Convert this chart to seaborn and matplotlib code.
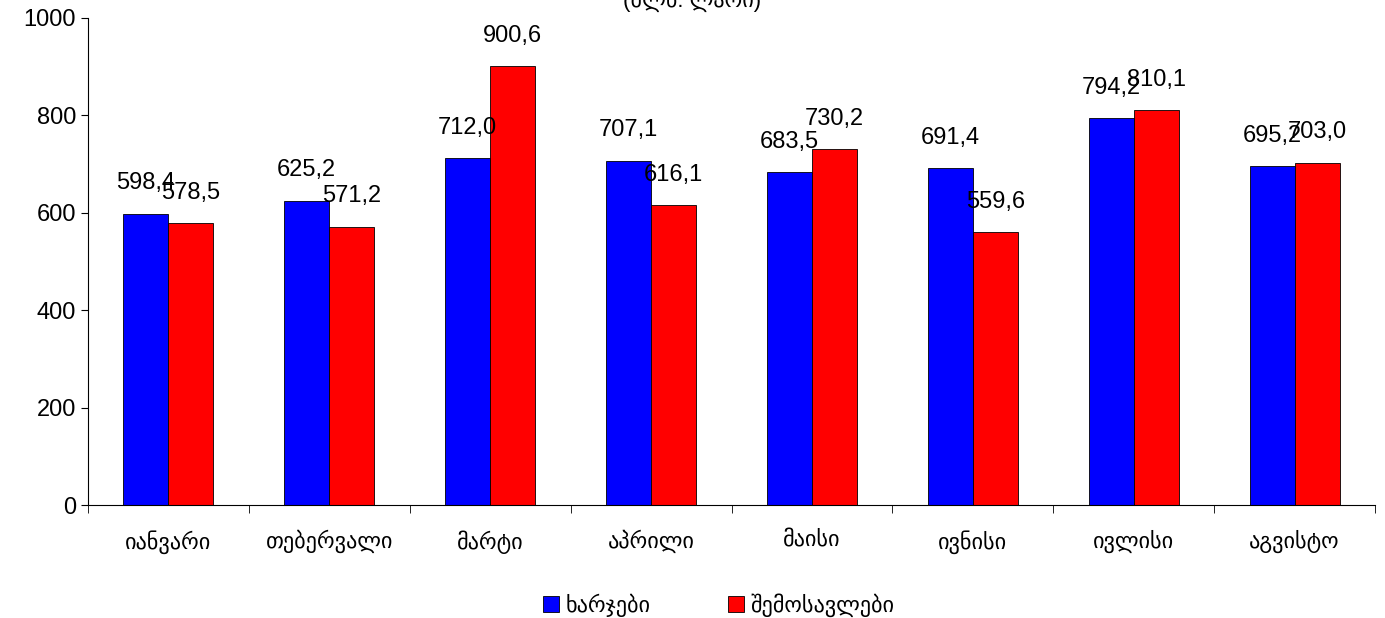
import pandas as pd
import numpy as np
import matplotlib.pyplot as plt
import seaborn as sns

months = ["იანვარი", "თებერვალი", "მარტი", "აპრილი", "მაისი", "ივნისი", "ივლისი", "აგვისტო"]
expenses = [598.4, 625.2, 712.0, 707.1, 683.5, 691.4, 794.2, 695.2]
revenues = [578.5, 571.2, 900.6, 616.1, 730.2, 559.6, 810.1, 703.0]
series = ["ხარჯები", "შემოსავლები"]

df = pd.DataFrame({"month": months * 2,
                   "series": [series[0]] * 8 + [series[1]] * 8,
                   "value": expenses + revenues})

sns.set_style("white")
plt.rcParams['font.family'] = ['Liberation Sans', 'DejaVu Sans']
plt.rcParams['text.color'] = 'black'
plt.rcParams['xtick.color'] = 'black'
plt.rcParams['ytick.color'] = 'black'

fig = plt.figure(figsize=(13.85, 6.18), dpi=100)
ax = fig.add_axes([88/1385, 1 - 505/618, 1287/1385, 487/618])
sns.barplot(data=df, x="month", y="value", hue="series", palette=["#0000FF", "#FF0000"],
            saturation=1, width=0.56, gap=0, edgecolor="black", linewidth=0.6, ax=ax)

for cont in ax.containers:
    ax.bar_label(cont, labels=[f"{v:.1f}".replace(".", ",") for v in cont.datavalues],
                 padding=14, fontsize=17)

ax.set_ylim(0, 1000)
ax.set_xlim(-0.5, 7.5)
ax.set_yticks(range(0, 1001, 200))
ax.tick_params(axis="y", labelsize=17, length=5, left=True, direction="out")
ax.tick_params(axis="x", labelsize=16, length=0, pad=18)
ax.set_xticks(np.arange(-0.5, 8, 1), minor=True)
ax.tick_params(axis="x", which="minor", length=6, bottom=True, direction="out")
ax.set_xlabel("")
ax.set_ylabel("")
sns.despine(ax=ax)
for s in ["left", "bottom"]:
    ax.spines[s].set_color("black")
    ax.spines[s].set_linewidth(0.8)

ax.legend(loc="upper center", bbox_to_anchor=(0.49, -0.14), ncol=2, frameon=False,
          fontsize=16, handlelength=0.7, handleheight=0.7, columnspacing=3.5, handletextpad=0.3)

fig.text(0.5, 1.0, "(მლნ. ლარი)", ha="center", va="center", fontsize=16)
fig.savefig("out.png", dpi=100)
